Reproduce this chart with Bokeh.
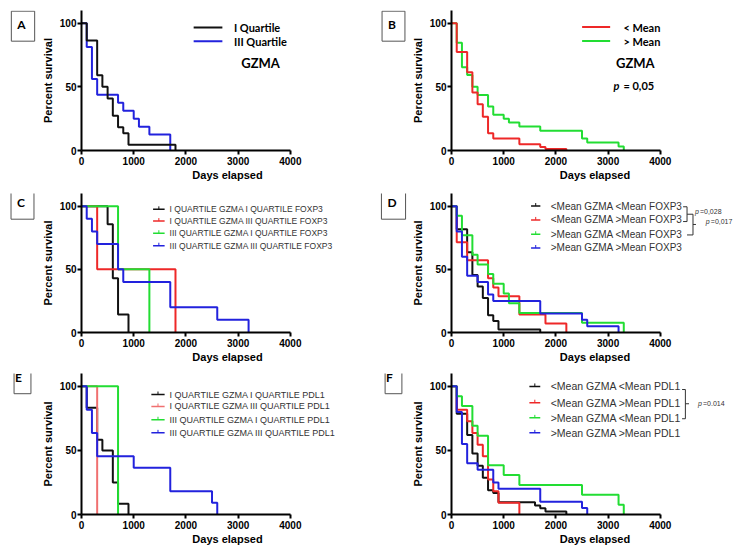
from bokeh.plotting import figure
from bokeh.models import Range1d, FixedTicker, Label, ColumnDataSource
from bokeh.layouts import column, row
from bokeh.embed import file_html
from bokeh.resources import INLINE

# ---------------- data ----------------
x_ticks = [0, 1000, 2000, 3000, 4000]
y_ticks = [0, 50, 100]
panel_letters = ["A", "B", "C", "D", "E", "F"]

# A: GZMA quartiles
a_q1_t = [0, 100, 300, 400, 500, 600, 700, 800, 900, 1800]
a_q1_s = [100, 86.4, 59.1, 50, 40.9, 27.3, 18.2, 13.6, 4.5, 0]
a_q3_t = [0, 100, 200, 300, 700, 800, 1000, 1100, 1300, 1700]
a_q3_s = [100, 81.25, 56.25, 43.75, 37.5, 31.25, 25, 18.75, 12.5, 0]
a_labels = ["I Quartile", "III Quartile"]

# B: GZMA mean split
b_lo_t = [0, 100, 300, 400, 500, 600, 700, 800, 1300, 1700, 1800, 2200]
b_lo_s = [100, 77.3, 61.4, 45.5, 36.4, 26.5, 13.6, 9.5, 5.0, 2.8, 1.2, 0]
b_hi_t = [0, 100, 200, 300, 400, 500, 700, 800, 1000, 1100, 1300, 1700, 2500, 2600, 3200, 3300]
b_hi_s = [100, 84.6, 65.4, 59.4, 50, 43.7, 34.6, 28, 25, 22, 18.8, 15.6, 9.4, 6.3, 3.1, 0]
b_labels = ["< Mean", "> Mean"]
b_pval = "= 0,05"

# C: quartiles GZMA x FOXP3
c_t = [[0, 500, 600, 700, 900],
       [0, 300, 1800],
       [0, 700, 1300],
       [0, 100, 200, 300, 700, 800, 1700, 2600, 3200]]
c_s = [[100, 85.7, 42.9, 14.3, 0],
       [100, 50, 0],
       [100, 50, 0],
       [100, 90, 80, 70, 50, 40, 20, 10, 0]]
c_labels = ["I QUARTILE GZMA I QUARTILE FOXP3",
            "I QUARTILE GZMA III QUARTILE FOXP3",
            "III QUARTILE GZMA I QUARTILE FOXP3",
            "III QUARTILE GZMA III QUARTILE FOXP3"]

# D: mean split GZMA x FOXP3
d_t = [[0, 100, 300, 400, 500, 600, 700, 800, 900, 1700],
       [0, 100, 300, 700, 800, 900, 1300, 1800, 2200],
       [0, 100, 200, 400, 500, 700, 800, 1000, 1100, 1300, 2500, 3300],
       [0, 100, 200, 300, 500, 700, 800, 1700, 2500, 2600, 3200]]
d_s = [[100, 81.8, 63.6, 45.5, 36.4, 27.3, 13.6, 9.1, 2.3, 0],
       [100, 71.4, 57.1, 42.9, 35.7, 28.6, 14.3, 7.1, 0],
       [100, 92.3, 76.9, 61.5, 53.8, 46.2, 38.5, 30.8, 23.1, 15.4, 7.7, 0],
       [100, 80, 60, 45, 40, 30, 25, 15, 10, 5, 0]]
d_labels = ["<Mean GZMA <Mean FOXP3", "<Mean GZMA >Mean FOXP3",
            ">Mean GZMA <Mean FOXP3", ">Mean GZMA >Mean FOXP3"]
d_pvals = ["=0,028", "=0,017"]

# E: quartiles GZMA x PDL1
e_t = [[0, 100, 300, 400, 600, 700, 900],
       [0, 300],
       [0, 700],
       [0, 100, 200, 300, 1000, 1700, 2500, 2600]]
e_s = [[100, 83.3, 58.3, 50, 25, 8.3, 0],
       [100, 0],
       [100, 0],
       [100, 81.8, 63.6, 45.5, 36.4, 18.2, 9.1, 0]]
e_labels = ["I QUARTILE GZMA I QUARTILE PDL1",
            "I QUARTILE GZMA III QUARTILE PDL1",
            "III QUARTILE GZMA I QUARTILE PDL1",
            "III QUARTILE GZMA III QUARTILE PDL1"]

# F: mean split GZMA x PDL1
f_t = [[0, 100, 300, 400, 500, 600, 700, 800, 900, 1600, 1700, 1800, 2200],
       [0, 100, 300, 400, 500, 600, 700, 800, 900, 1300],
       [0, 100, 200, 400, 500, 700, 1000, 1300, 2500, 3200, 3300],
       [0, 100, 200, 300, 500, 800, 900, 1700, 2500, 2600]]
f_s = [[100, 78.6, 62, 47.6, 38.1, 28.6, 19, 16.7, 9.5, 7.1, 4.8, 2.4, 0],
       [100, 81.8, 72.7, 63.6, 54.5, 45.5, 27.3, 18.2, 9.1, 0],
       [100, 92.3, 84.6, 69.2, 61.5, 38.5, 30.8, 23.1, 15.4, 7.7, 0],
       [100, 80, 55, 40, 35, 25, 20, 10, 5, 0]]
f_labels = ["<Mean GZMA <Mean PDL1", "<Mean GZMA >Mean PDL1",
            ">Mean GZMA <Mean PDL1", ">Mean GZMA >Mean PDL1"]
f_pval = "=0.014"

# ---------------- styling ----------------
BLACK = "#111111"
RED = "#ee2828"
SALMON = "#f07070"
GREEN = "#22dd33"
BLUE = "#2222dd"
BOX = "#555555"

PXD = 52.75 / 1000.0      # pixels per day
PXP = 141.0 / 110.0       # pixels per percent
AX_FONT = "Liberation Sans"
LEG_FONT = "Lato"


def make_fig(width, height, top, bottom):
    fw = width - 40 - 5
    p = figure(width=width, height=height,
               x_range=Range1d(0, fw / PXD), y_range=Range1d(0, 110),
               output_backend="svg", toolbar_location=None,
               min_border_left=40, min_border_right=5,
               min_border_top=top, min_border_bottom=bottom)
    p.grid.visible = False
    p.outline_line_color = None
    p.background_fill_color = "white"
    p.border_fill_color = "white"
    for ax in (p.xaxis[0], p.yaxis[0]):
        ax.axis_line_width = 2
        ax.axis_line_color = "black"
        ax.major_tick_line_width = 2
        ax.major_tick_line_color = "black"
        ax.major_tick_out = 4
        ax.major_tick_in = 0
        ax.minor_tick_out = 0
        ax.minor_tick_in = 0
        ax.major_label_text_font = AX_FONT
        ax.major_label_text_font_size = "10px"
        ax.major_label_text_font_style = "bold"
        ax.major_label_text_color = "black"
        ax.axis_label_text_font = AX_FONT
        ax.axis_label_text_font_size = "11px"
        ax.axis_label_text_font_style = "bold"
        ax.axis_label_text_color = "black"
    p.xaxis.bounds = (0, 4000)
    p.xaxis.ticker = FixedTicker(ticks=x_ticks)
    p.xaxis.axis_label = "Days elapsed"
    p.xaxis.major_label_standoff = 2
    p.xaxis.axis_label_standoff = 1
    p.yaxis.bounds = (0, 110)
    p.yaxis.ticker = FixedTicker(ticks=y_ticks)
    p.yaxis.axis_label = "Percent survival"
    p.yaxis.major_label_standoff = 1
    p.yaxis.axis_label_standoff = 3
    return p


def letter_fig(letter, width, height, cx, cy, vpad=6, hpad=9):
    # small figure that only carries the boxed panel letter (y measured from top)
    f = figure(width=width, height=height, x_range=Range1d(0, width),
               y_range=Range1d(height, 0), output_backend="svg",
               toolbar_location=None, x_axis_type=None, y_axis_type=None,
               min_border=0)
    f.grid.visible = False
    f.outline_line_color = None
    f.add_layout(Label(x=cx, y=cy, text=letter, text_align="center",
                       text_baseline="middle", text_font=LEG_FONT,
                       text_font_size="12px", text_font_style="bold",
                       text_color="black", border_line_color=BOX,
                       border_line_width=1, background_fill_color="white",
                       padding=(vpad, hpad, vpad, hpad)))
    return f


def px(dx_px):
    return dx_px / PXD


def py(dy_px):
    return dy_px / PXP


def curve(p, t, s, color):
    src = ColumnDataSource(dict(t=t, s=s))
    p.step(x="t", y="s", source=src, mode="after", line_color=color, line_width=2)


def text(p, x, y, s, size, style="normal", color="black", font=LEG_FONT):
    p.add_layout(Label(x=x, y=y, text=s, text_align="left", text_baseline="middle",
                       text_font=font, text_font_size=size, text_font_style=style,
                       text_color=color))


def small_legend(p, labels, colors, x0, x1, xt, ys, size):
    for lab, col, y in zip(labels, colors, ys):
        p.segment(x0=[x0], y0=[y], x1=[x1], y1=[y], line_color=col, line_width=1.5)
        xm = (x0 + x1) / 2
        p.segment(x0=[xm], y0=[y], x1=[xm], y1=[y + py(3)], line_color=col, line_width=1)
        text(p, xt, y, lab, size, color="#333333", font=AX_FONT)


def segs(p, pts):
    xs = [q[0] for q in pts]
    ys = [q[1] for q in pts]
    p.line(xs, ys, line_color="#333333", line_width=1)


H1, H2, H3 = 183, 182, 183
WL, WR = 340, 335

# ---------------- panel A ----------------
pA = make_fig(WL, H1, 10, 32)
curve(pA, a_q3_t, a_q3_s, BLUE)
curve(pA, a_q1_t, a_q1_s, BLACK)
for col, y in zip([BLACK, BLUE], [96.7, 85.8]):
    pA.segment(x0=[2148], y0=[y], x1=[2698], y1=[y], line_color=col, line_width=2)
text(pA, 2919, 96.7, a_labels[0], "11px", "bold")
text(pA, 2919, 85.8, a_labels[1], "11px", "bold")
text(pA, 3060, 68.9, "GZMA", "13px", "bold")

# ---------------- panel B ----------------
pB = make_fig(WR, H1, 10, 32)
curve(pB, b_hi_t, b_hi_s, GREEN)
curve(pB, b_lo_t, b_lo_s, RED)
for col, y in zip([RED, GREEN], [97.0, 86.0]):
    pB.segment(x0=[2502], y0=[y], x1=[3039], y1=[y], line_color=col, line_width=2)
text(pB, 3293, 97.0, b_labels[0], "11px", "bold")
text(pB, 3293, 86.0, b_labels[1], "11px", "bold")
text(pB, 3150, 68.9, "GZMA", "13px", "bold")
text(pB, 3103, 50.9, "p", "11px", "bold italic")
text(pB, 3103 + px(10), 50.9, b_pval, "11px", "bold")

# ---------------- panel C ----------------
pC = make_fig(WL, H2, 10, 31)
c_cols = [BLACK, RED, GREEN, BLUE]
for t, s, col in zip(c_t, c_s, c_cols):
    curve(pC, t, s, col)
small_legend(pC, c_labels, c_cols, 1371, 1592, 1687, [97.5, 88.2, 78.6, 68.7], "8.5px")

# ---------------- panel D ----------------
pD = make_fig(WR, H2, 10, 31)
for t, s, col in zip(d_t, d_s, c_cols):
    curve(pD, t, s, col)
small_legend(pD, d_labels, c_cols, 1524, 1702, 1901, [100.1, 89.1, 77.8, 66.9], "10px")
segs(pD, [(4436, 99.5), (4512, 99.5), (4512, 87.8), (4436, 87.8)])
segs(pD, [(4512, 93.6), (4626, 93.6), (4626, 77.2), (4512, 77.2)])
segs(pD, [(4626, 85.5), (4683, 85.5)])
text(pD, 4664, 95.4, "p", "7px", "italic", "#333333", AX_FONT)
text(pD, 4664 + px(5), 95.4, d_pvals[0], "7px", "normal", "#333333", AX_FONT)
text(pD, 4872, 88.2, "p", "7px", "italic", "#333333", AX_FONT)
text(pD, 4872 + px(5), 88.2, d_pvals[1], "7px", "normal", "#333333", AX_FONT)

# ---------------- panel E ----------------
pE = make_fig(WL, H3, 8, 34)
e_cols = [BLACK, SALMON, GREEN, BLUE]
for t, s, col in zip(e_t, e_s, e_cols):
    curve(pE, t, s, col)
small_legend(pE, e_labels, e_cols, 1338, 1592, 1687, [93.6, 84.3, 73.9, 63.7], "9px")

# ---------------- panel F ----------------
pF = make_fig(WR, H3, 8, 34)
for t, s, col in zip(f_t, f_s, c_cols):
    curve(pF, t, s, col)
small_legend(pF, f_labels, c_cols, 1492, 1700, 1901, [99.9, 87.2, 75.4, 63.7], "10.5px")
segs(pF, [(4417, 97.5), (4480, 97.5), (4480, 74.7), (4417, 74.7)])
segs(pF, [(4480, 86.4), (4550, 86.4)])
text(pF, 4723, 86.4, "p", "7px", "italic", "#333333", AX_FONT)
text(pF, 4723 + px(5), 86.4, f_pval, "7px", "normal", "#333333", AX_FONT)

# ---------------- letters ----------------
lA = letter_fig(panel_letters[0], 38, H1, 22.5, 20.5)
lB = letter_fig(panel_letters[1], 30, H1, 15, 20.5)
lC = letter_fig(panel_letters[2], 38, H2, 22, 14)
lD = letter_fig(panel_letters[3], 30, H2, 15, 14)
lE = letter_fig(panel_letters[4], 38, H3, 22, 10, vpad=1)
lF = letter_fig(panel_letters[5], 30, H3, 15, 10, vpad=1)

layout = column(row(lA, pA, lB, pB), row(lC, pC, lD, pD), row(lE, pE, lF, pF))
open("out.html", "w").write(file_html(layout, INLINE))
